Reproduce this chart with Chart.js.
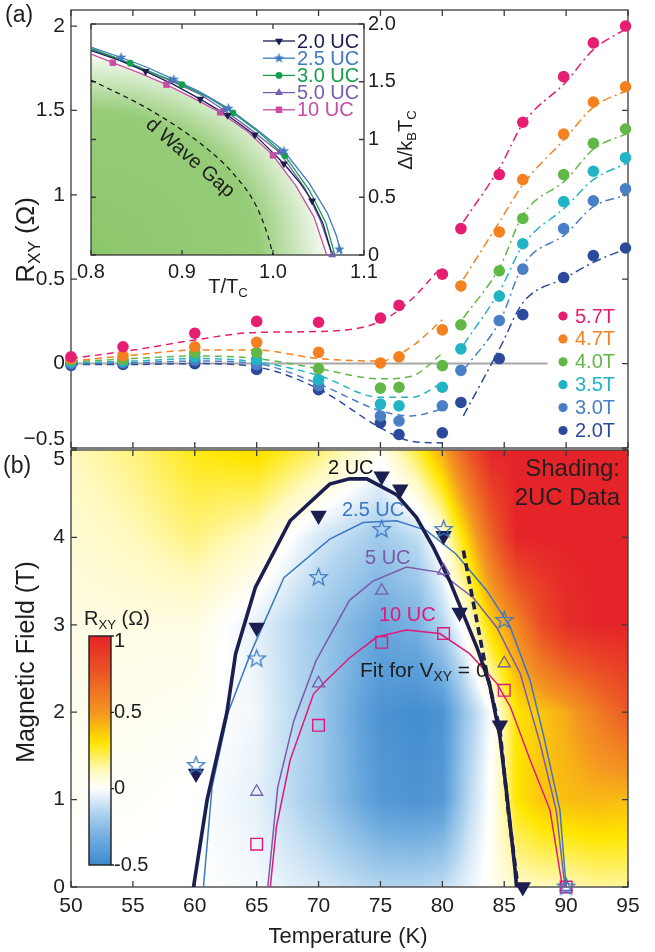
<!DOCTYPE html>
<html>
<head>
<meta charset="utf-8">
<script src="https://cdn.jsdelivr.net/npm/chart.js@4.4.1/dist/chart.umd.min.js"></script>
<style>
html, body { margin: 0; padding: 0; background: #fff; }
#page { position: relative; width: 655px; height: 952px; overflow: hidden; }
.box { position: absolute; left: 0; }
</style>
</head>
<body>
<div id="page">
  <div class="box" style="top:0"><canvas id="chartA" width="655" height="460"></canvas></div>
  <div class="box" style="top:440px"><canvas id="chartB" width="655" height="512"></canvas></div>
  <div class="box" style="top:0"><canvas id="inset" width="440" height="300"></canvas></div>
</div>
<script>
// ---------- panel (a): R_XY vs T for several fields (2 UC) ----------
const temps = [50, 54.2, 60, 65, 70, 75, 76.5, 80, 81.5, 84.6, 86.5, 89.8, 92.2, 94.8];
const r57 = [0.04, 0.10, 0.18, 0.25, 0.245, 0.27, 0.345, 0.53, 0.80, 1.12, 1.43, 1.70, 1.90, 2.00];
const r47 = [0.03, 0.047, 0.10, 0.126, 0.067, 0.004, 0.04, 0.20, 0.46, 0.78, 1.09, 1.36, 1.55, 1.64];
const r40 = [0.02, 0.024, 0.065, 0.065, -0.03, -0.145, -0.14, -0.012, 0.23, 0.55, 0.86, 1.12, 1.305, 1.39];
const r35 = [0.01, 0.015, 0.04, 0.024, -0.095, -0.24, -0.25, -0.14, 0.087, 0.40, 0.71, 0.96, 1.14, 1.22];
const r30 = [0.0, 0.005, 0.02, -0.006, -0.13, -0.31, -0.34, -0.25, -0.04, 0.255, 0.56, 0.80, 0.965, 1.035];
const r20 = [-0.01, -0.005, 0.0, -0.035, -0.155, -0.35, -0.42, -0.41, -0.23, 0.03, 0.29, 0.51, 0.64, 0.685];

// fit curves (dashed below ~80 K, dash-dot above)
const fitLowT = [50, 55, 60, 65, 70, 75, 77.5, 80];
const fitHighT = [81.7, 84.7, 86.5, 90, 92.2, 95];
const fit57Low = [0.03, 0.08, 0.14, 0.185, 0.19, 0.25, 0.38, 0.58];
const fit57High = [0.84, 1.17, 1.42, 1.67, 1.86, 1.99];
const fit47Low = [0.015, 0.05, 0.08, 0.08, 0.03, 0.015, 0.10, 0.26];
const fit47High = [0.50, 0.85, 1.06, 1.34, 1.52, 1.62];
const fit40Low = [0.01, 0.03, 0.045, 0.03, -0.03, -0.09, -0.075, 0.06];
const fit40High = [0.27, 0.58, 0.88, 1.09, 1.27, 1.365];
const fit35Low = [0.005, 0.015, 0.03, 0.01, -0.07, -0.2, -0.2, -0.115];
const fit35High = [0.11, 0.44, 0.70, 0.93, 1.09, 1.19];
const fit30Low = [0.0, 0.005, 0.015, 0.0, -0.12, -0.28, -0.31, -0.27];
const fit30High = [-0.04, 0.26, 0.58, 0.77, 0.93, 1.0];
const fit20Low = [-0.005, -0.005, 0.0, -0.02, -0.15, -0.38, -0.46, -0.47];
const fit20High = [-0.31, 0.10, 0.36, 0.51, 0.60, 0.685];

const zeroT = [50, 88.5];
const zeroR = [0, 0];

const fieldNames = ['5.7T', '4.7T', '4.0T', '3.5T', '3.0T', '2.0T'];
const xTicks = [50, 55, 60, 65, 70, 75, 80, 85, 90, 95];
const aYTicks = [-0.5, 0, 0.5, 1, 1.5, 2];

// ---------- inset: gap vs T/Tc ----------
const insetT20 = [0.80, 0.83, 0.86, 0.89, 0.92, 0.95, 0.98, 1.012, 1.03, 1.043, 1.055, 1.065];
const insetD20 = [1.77, 1.69, 1.59, 1.48, 1.35, 1.21, 1.04, 0.79, 0.62, 0.47, 0.27, 0];
const insetT25 = [0.80, 0.833, 0.86, 0.891, 0.92, 0.951, 0.98, 1.012, 1.04, 1.06, 1.07, 1.075];
const insetD25 = [1.80, 1.71, 1.63, 1.52, 1.41, 1.27, 1.10, 0.90, 0.62, 0.36, 0.16, 0];
const insetT30 = [0.80, 0.843, 0.87, 0.90, 0.93, 0.956, 0.985, 1.013, 1.04, 1.058, 1.068];
const insetD30 = [1.79, 1.66, 1.57, 1.475, 1.36, 1.23, 1.06, 0.86, 0.56, 0.28, 0];
const insetT50 = [0.80, 0.83, 0.8876, 0.92, 0.946, 0.975, 1.007, 1.035, 1.052, 1.065];
const insetD50 = [1.78, 1.70, 1.51, 1.39, 1.255, 1.09, 0.89, 0.58, 0.30, 0];
const insetT10 = [0.80, 0.824, 0.855, 0.883, 0.912, 0.942, 0.972, 1.0, 1.025, 1.045, 1.059];
const insetD10 = [1.74, 1.665, 1.57, 1.475, 1.36, 1.235, 1.07, 0.863, 0.60, 0.33, 0];
const mk20T = [0.86, 0.92, 0.95, 0.98, 1.012, 1.043];
const mk20D = [1.59, 1.35, 1.21, 1.04, 0.79, 0.47];
const mk25T = [0.833, 0.891, 0.951, 1.012, 1.073];
const mk25D = [1.71, 1.52, 1.27, 0.90, 0.05];
const mk30T = [0.843, 0.90, 0.956, 1.013];
const mk30D = [1.66, 1.475, 1.23, 0.86];
const mk50T = [0.8876, 0.946, 1.007, 1.065];
const mk50D = [1.51, 1.255, 0.889, 0];
const mk10T = [0.824, 0.883, 0.942, 1.0];
const mk10D = [1.665, 1.475, 1.235, 0.863];
const dWaveT = [0.8, 0.865, 0.92, 0.956, 0.982, 0.995, 1.0];
const dWaveD = [1.515, 1.255, 0.967, 0.707, 0.418, 0.15, 0];
const insetNames = ['2.0 UC', '2.5 UC', '3.0 UC', '5.0 UC', '10 UC'];
const insetXTicks = [0.8, 0.9, 1, 1.1];
const insetYTicks = [0, 0.5, 1, 1.5, 2];

// ---------- panel (b): phase boundaries in T-B ----------
const uc2LineT = [59.9, 61.0, 62.6, 63.3, 64.9, 67.7, 70.9, 72.5, 73.9, 76.3, 77.9, 79.3, 80.6, 81.7, 82.8, 83.8, 84.65, 85.2, 85.85, 86.0];
const uc2LineB = [0, 1.0, 2.0, 2.67, 3.43, 4.19, 4.61, 4.67, 4.67, 4.49, 4.23, 3.88, 3.5, 3.12, 2.74, 2.33, 1.72, 1.07, 0.23, 0];
const fitVxyT = [81.7, 83.6, 84.65, 85.3, 86.1];
const fitVxyB = [3.85, 2.44, 1.8, 0.9, 0];
const uc25LineT = [60.7, 61.4, 62.7, 64.5, 67.2, 70.9, 73.6, 76.3, 78.7, 81.1, 83.6, 85.5, 87.1, 88.2, 89.5, 90];
const uc25LineB = [0, 1.15, 2.0, 2.67, 3.54, 3.98, 4.17, 4.19, 4.08, 3.81, 3.39, 2.97, 2.36, 1.72, 0.88, 0];
const uc5LineT = [65.9, 66.7, 68.0, 69.8, 72.5, 74.4, 77.1, 79.8, 82.5, 84.4, 86.3, 87.9, 89.2, 89.9];
const uc5LineB = [0, 1.14, 1.9, 2.59, 3.28, 3.5, 3.66, 3.6, 3.31, 2.97, 2.44, 1.64, 0.88, 0];
const uc10LineT = [66.1, 66.6, 67.7, 69.6, 70.6, 72.5, 74.7, 77.1, 79.8, 82.2, 84.4, 85.5, 87.1, 88.7, 89.7];
const uc10LineB = [0, 0.69, 1.45, 2.21, 2.36, 2.62, 2.86, 2.94, 2.9, 2.67, 2.33, 2.06, 1.45, 0.88, 0];
const uc2T = [60.1, 65, 70, 75.1, 76.6, 80.1, 81.4, 84.65, 86.5];
const uc2B = [1.30, 2.97, 4.25, 4.70, 4.55, 4.02, 3.14, 1.85, 0];
const uc25T = [60.1, 65, 70, 75.1, 80.1, 85, 90];
const uc25B = [1.39, 2.61, 3.54, 4.09, 4.09, 3.05, 0];
const uc5T = [65, 70, 75.1, 80.1, 85, 90];
const uc5B = [1.09, 2.33, 3.39, 3.62, 2.56, 0];
const uc10T = [65, 70, 75.1, 80.1, 85, 90];
const uc10B = [0.49, 1.85, 2.8, 2.9, 2.25, 0];
const bYTicks = [0, 1, 2, 3, 4, 5];

// shading: R_XY of 2 UC sample on a coarse T x B grid
const shadeT = [50, 55, 60, 65, 70, 75, 78, 80, 82, 84, 86, 88, 90, 92.5, 95];
const shadeB = [0, 1, 2, 3, 4, 5];
const shadeR0 = [0, 0, 0, -0.02, -0.08, -0.15, -0.15, -0.12, -0.05, 0.03, 0.1, 0.12, 0.12, 0.15, 0.15];
const shadeR1 = [0.01, 0.01, 0, -0.05, -0.2, -0.42, -0.45, -0.42, -0.15, 0.02, 0.3, 0.38, 0.4, 0.42, 0.4];
const shadeR2 = [0.03, 0.03, 0.02, -0.03, -0.2, -0.45, -0.48, -0.45, -0.2, 0.0, 0.3, 0.38, 0.45, 0.6, 0.75];
const shadeR3 = [0.05, 0.05, 0.05, -0.05, -0.2, -0.35, -0.3, -0.15, 0.05, 0.35, 0.55, 0.8, 0.95, 1, 1];
const shadeR4 = [0.08, 0.12, 0.18, 0.1, -0.08, -0.2, -0.12, 0.05, 0.35, 0.7, 1, 1, 1, 1, 1];
const shadeR5 = [0.12, 0.18, 0.28, 0.33, 0.2, 0.03, 0.25, 0.45, 0.75, 1, 1, 1, 1, 1, 1];
const shadeRows = [shadeR0, shadeR1, shadeR2, shadeR3, shadeR4, shadeR5];
const cbTicks = [-0.5, 0, 0.5, 1];

// ---------- styles ----------
const F = '"Liberation Sans", Arial, Helvetica, sans-serif';
Chart.defaults.font.family = F;
Chart.defaults.color = '#1e1e1e';
const fieldColors = ['#e61e72', '#f4801f', '#62b847', '#20b4c4', '#4a7ec5', '#2c4a9b'];
const insetColors = ['#1b1d4d', '#3f7ac2', '#14a04b', '#7460ae', '#c94ca6'];
const navy = '#1b1e4f', blue = '#3b78c2', purple = '#7a5bab', magenta = '#e0197a';
const TICK = 21;

function pts(xs, ys) { return xs.map((v, i) => ({ x: v, y: ys[i] })); }

function rich(ctx, parts, x, y, size, align, color) {
  const sub = size * 0.66;
  let w = 0;
  parts.forEach(p => { ctx.font = (p[1] ? sub : size) + 'px ' + F; w += ctx.measureText(p[0]).width; });
  let cx = align === 'center' ? x - w / 2 : align === 'right' ? x - w : x;
  ctx.fillStyle = color || '#1e1e1e';
  ctx.textBaseline = 'middle';
  ctx.textAlign = 'left';
  parts.forEach(p => {
    ctx.font = (p[1] ? sub : size) + 'px ' + F;
    ctx.fillText(p[0], cx, p[1] ? y + size * 0.3 : y);
    cx += ctx.measureText(p[0]).width;
  });
}

function starImage(r, fill, stroke, lw) {
  const s = Math.ceil(2 * r + 2 * lw + 2);
  const c = document.createElement('canvas');
  c.width = c.height = s;
  const g = c.getContext('2d');
  g.beginPath();
  for (let k = 0; k < 10; k++) {
    const rr = k % 2 === 0 ? r : r * 0.42;
    const ang = -Math.PI / 2 + k * Math.PI / 5;
    g.lineTo(s / 2 + rr * Math.cos(ang), s / 2 + rr * Math.sin(ang));
  }
  g.closePath();
  if (fill) { g.fillStyle = fill; g.fill(); }
  if (stroke) { g.strokeStyle = stroke; g.lineWidth = lw; g.stroke(); }
  return c;
}

function makeFrame(xt, yt, len) {
  return {
    id: 'frame',
    beforeDatasetsDraw(chart) {
      const { ctx, chartArea: a, scales: { x, y } } = chart;
      ctx.save();
      ctx.strokeStyle = '#3a3a3a';
      ctx.lineWidth = 1.3;
      ctx.beginPath();
      xt.forEach(v => {
        const p = x.getPixelForValue(v);
        ctx.moveTo(p, a.bottom); ctx.lineTo(p, a.bottom - len);
        ctx.moveTo(p, a.top); ctx.lineTo(p, a.top + len);
      });
      yt.forEach(v => {
        const p = y.getPixelForValue(v);
        ctx.moveTo(a.left, p); ctx.lineTo(a.left + len, p);
        ctx.moveTo(a.right, p); ctx.lineTo(a.right - len, p);
      });
      ctx.stroke();
      ctx.strokeRect(a.left, a.top, a.right - a.left, a.bottom - a.top);
      ctx.restore();
    }
  };
}

function fixTicks(vals) {
  return s => { s.ticks = vals.map(v => ({ value: v })); };
}
function fixWidth(w) {
  return s => { s.width = w; s.paddingTop = 0; s.paddingBottom = 0; s.paddingLeft = 0; s.paddingRight = 0; };
}
function fixHeight(h) {
  return s => { s.height = h; s.paddingTop = 0; s.paddingBottom = 0; s.paddingLeft = 0; s.paddingRight = 0; };
}

// colormap used for the shading and its colour bar
const cmapStops = [
  [-0.5, [62, 138, 204]], [-0.35, [104, 167, 221]], [-0.15, [178, 213, 239]], [0, [255, 255, 255]],
  [0.12, [255, 249, 190]], [0.3, [255, 230, 0]], [0.5, [244, 150, 34]], [0.75, [236, 88, 37]], [1, [229, 36, 41]]
];
function cmap(v) {
  if (v <= cmapStops[0][0]) return cmapStops[0][1];
  for (let i = 1; i < cmapStops.length; i++) {
    if (v <= cmapStops[i][0]) {
      const [v0, c0] = cmapStops[i - 1], [v1, c1] = cmapStops[i];
      const f = (v - v0) / (v1 - v0);
      return [0, 1, 2].map(k => c0[k] + (c1[k] - c0[k]) * f);
    }
  }
  return cmapStops[cmapStops.length - 1][1];
}
function locate(arr, v) {
  if (v <= arr[0]) return [0, 0];
  for (let i = 1; i < arr.length; i++) if (v <= arr[i]) return [i - 1, (v - arr[i - 1]) / (arr[i] - arr[i - 1])];
  return [arr.length - 2, 1];
}
function shadeAt(t, b) {
  const [i, fx] = locate(shadeT, t), [j, fy] = locate(shadeB, b);
  const r0 = shadeRows[j], r1 = shadeRows[j + 1];
  const a = r0[i] + (r0[i + 1] - r0[i]) * fx;
  const c = r1[i] + (r1[i + 1] - r1[i]) * fx;
  return a + (c - a) * fy;
}

// ---------------- chart A ----------------
const fitLows = [fit57Low, fit47Low, fit40Low, fit35Low, fit30Low, fit20Low];
const fitHighs = [fit57High, fit47High, fit40High, fit35High, fit30High, fit20High];
const dotsA = [r57, r47, r40, r35, r30, r20];
const dsA = [];
dotsA.forEach((d, i) => dsA.push({
  data: pts(temps, d), backgroundColor: fieldColors[i], borderWidth: 0, pointRadius: 5.8, order: 0, clip: false
}));
fitLows.forEach((d, i) => dsA.push({
  data: pts(fitLowT, d), showLine: true, borderColor: fieldColors[i], borderWidth: 1.5, borderDash: [7, 5],
  pointRadius: 0, cubicInterpolationMode: 'monotone', order: 1
}));
fitHighs.forEach((d, i) => dsA.push({
  data: pts(fitHighT, d), showLine: true, borderColor: fieldColors[i], borderWidth: 1.5, borderDash: [9, 4, 2, 4],
  pointRadius: 0, cubicInterpolationMode: 'monotone', order: 1
}));
dsA.push({ data: pts(zeroT, zeroR), showLine: true, borderColor: '#a8a8a8', borderWidth: 2, pointRadius: 0, order: 2 });

const textA = {
  id: 'textA',
  afterDraw(chart) {
    const ctx = chart.ctx;
    ctx.save();
    rich(ctx, [['(a)', 0]], 5, 16, 23, 'left');
    // bottom tick label sits a bit above the shared border
    rich(ctx, [['\u22120.5', 0]], 65, 439, TICK, 'right');
    ctx.translate(27, 240);
    ctx.rotate(-Math.PI / 2);
    rich(ctx, [['R', 0], ['XY', 1], [' (\u03A9)', 0]], 0, 0, 26, 'center');
    ctx.restore();
    // field legend
    ctx.save();
    fieldNames.forEach((n, i) => {
      const yy = 316 + i * 22.9;
      ctx.fillStyle = fieldColors[i];
      ctx.beginPath(); ctx.arc(563, yy, 4.6, 0, Math.PI * 2); ctx.fill();
      ctx.font = '20px ' + F; ctx.textBaseline = 'middle'; ctx.textAlign = 'left';
      ctx.fillText(n, 575, yy + 1);
    });
    ctx.restore();
  }
};

new Chart(document.getElementById('chartA'), {
  type: 'scatter',
  data: { datasets: dsA },
  options: {
    responsive: false, animation: false, events: [], devicePixelRatio: 1,
    layout: { padding: { left: 0, right: 27, top: 10, bottom: 12 } },
    plugins: { legend: { display: false }, tooltip: { enabled: false } },
    scales: {
      x: { type: 'linear', min: 50, max: 95, display: false, afterBuildTicks: fixTicks(xTicks) },
      y: {
        type: 'linear', min: -0.5, max: 2.095,
        afterBuildTicks: fixTicks(aYTicks), afterFit: fixWidth(71),
        grid: { display: false, drawTicks: false }, border: { display: false },
        ticks: { padding: 6, font: { size: TICK }, color: '#1e1e1e',
          callback: v => v === -0.5 ? '' : String(v) }
      }
    }
  },
  plugins: [makeFrame(xTicks, aYTicks, 6), textA]
});

// ---------------- inset ----------------
const star25 = starImage(5.5, insetColors[1], null, 0);
const insetLines = [[insetT20, insetD20], [insetT25, insetD25], [insetT30, insetD30], [insetT50, insetD50], [insetT10, insetD10]];
const insetMarks = [[mk20T, mk20D], [mk25T, mk25D], [mk30T, mk30D], [mk50T, mk50D], [mk10T, mk10D]];
const insetStyles = [
  { pointStyle: 'triangle', rotation: 180, radius: 4.6 },
  { pointStyle: star25, rotation: 0, radius: 5.5 },
  { pointStyle: 'circle', rotation: 0, radius: 3.4 },
  { pointStyle: 'triangle', rotation: 0, radius: 4.6 },
  { pointStyle: 'rect', rotation: 0, radius: 4.6 }
];
const dsI = [];
insetLines.forEach((l, i) => dsI.push({
  data: pts(l[0], l[1]), showLine: true, borderColor: insetColors[i], borderWidth: 1.3, pointRadius: 0, order: 1
}));
insetMarks.forEach((m, i) => dsI.push({
  data: pts(m[0], m[1]), backgroundColor: insetColors[i], borderColor: insetColors[i], borderWidth: 0,
  pointStyle: insetStyles[i].pointStyle, rotation: insetStyles[i].rotation, pointRadius: insetStyles[i].radius, order: 0, clip: false
}));
dsI.push({ data: pts(dWaveT, dWaveD), showLine: true, borderColor: '#111', borderWidth: 1.2, borderDash: [5, 4],
  pointRadius: 0, order: 2, cubicInterpolationMode: 'monotone' });

const insetFill = {
  id: 'insetFill',
  beforeDatasetsDraw(chart) {
    const { ctx, chartArea: a } = chart;
    ctx.save();
    ctx.fillStyle = '#fff';
    ctx.fillRect(a.left, a.top, a.right - a.left, a.bottom - a.top);
    const meta = chart.getDatasetMeta(4);
    const pp = meta.data;
    ctx.beginPath();
    ctx.moveTo(a.left, a.bottom);
    pp.forEach(p => ctx.lineTo(p.x, p.y));
    ctx.lineTo(a.left, a.bottom);
    ctx.closePath();
    ctx.clip();
    const rx = pp[pp.length - 1].x - a.left, ry = a.bottom - pp[0].y;
    ctx.translate(a.left, a.bottom);
    ctx.scale(rx, ry);
    const g = ctx.createRadialGradient(0, 0, 0, 0, 0, 1.02);
    g.addColorStop(0, 'rgb(140,198,108)');
    g.addColorStop(0.7, 'rgb(150,204,120)');
    g.addColorStop(1, 'rgb(255,255,255)');
    ctx.fillStyle = g;
    ctx.fillRect(0, -1.3, 1.3, 1.3);
    ctx.restore();
  }
};
const textI = {
  id: 'textI',
  afterDraw(chart) {
    const ctx = chart.ctx;
    ctx.save();
    rich(ctx, [['T/T', 0], ['C', 1]], 228, 287, 20, 'center');
    ctx.restore();
    ctx.save();
    ctx.translate(406, 140); ctx.rotate(-Math.PI / 2);
    rich(ctx, [['\u0394/k', 0], ['B', 1], ['T', 0], ['C', 1]], 0, 0, 20, 'center');
    ctx.restore();
    ctx.save();
    ctx.translate(190, 158); ctx.rotate(41 * Math.PI / 180);
    rich(ctx, [['d Wave Gap', 0]], 0, 0, 20, 'center', '#1e1e1e');
    ctx.restore();
    // legend
    ctx.save();
    insetNames.forEach((n, i) => {
      const yy = 41 + i * 17.2;
      ctx.strokeStyle = insetColors[i]; ctx.lineWidth = 1.3;
      ctx.beginPath(); ctx.moveTo(263, yy); ctx.lineTo(295, yy); ctx.stroke();
      ctx.fillStyle = insetColors[i];
      const st = insetStyles[i];
      Chart.helpers.drawPoint(ctx, { pointStyle: st.pointStyle, rotation: st.rotation, radius: st.radius, borderWidth: 0 }, 279, yy);
      ctx.font = '20px ' + F; ctx.textBaseline = 'middle'; ctx.textAlign = 'left';
      ctx.fillStyle = insetColors[i];
      ctx.fillText(n, 297, yy + 1);
    });
    ctx.restore();
  }
};

new Chart(document.getElementById('inset'), {
  type: 'scatter',
  data: { datasets: dsI },
  options: {
    responsive: false, animation: false, events: [], devicePixelRatio: 1,
    layout: { padding: { left: 91, right: 0, top: 24, bottom: 0 } },
    plugins: { legend: { display: false }, tooltip: { enabled: false } },
    scales: {
      x: {
        type: 'linear', min: 0.8, max: 1.1, afterBuildTicks: fixTicks(insetXTicks), afterFit: fixHeight(45),
        grid: { display: false, drawTicks: false }, border: { display: false },
        ticks: { padding: 5, font: { size: 20 }, color: '#1e1e1e', maxRotation: 0 }
      },
      y: {
        type: 'linear', position: 'right', min: 0, max: 2, afterBuildTicks: fixTicks(insetYTicks), afterFit: fixWidth(76),
        grid: { display: false, drawTicks: false }, border: { display: false },
        ticks: { padding: 4, font: { size: 20 }, color: '#1e1e1e', callback: v => v === 2 ? '2.0' : String(v) }
      }
    }
  },
  plugins: [insetFill, makeFrame(insetXTicks, insetYTicks, 5), textI]
});

// ---------------- chart B ----------------
const heat = {
  id: 'heat',
  beforeDatasetsDraw(chart) {
    const { ctx, chartArea: a, scales: { x, y } } = chart;
    const w = Math.round(a.right - a.left), h = Math.round(a.bottom - a.top);
    const off = document.createElement('canvas');
    off.width = w; off.height = h;
    const octx = off.getContext('2d');
    const img = octx.createImageData(w, h);
    for (let j = 0; j < h; j++) {
      const b = y.getValueForPixel(a.top + j + 0.5);
      for (let i = 0; i < w; i++) {
        const t = x.getValueForPixel(a.left + i + 0.5);
        const c = cmap(shadeAt(t, b));
        const k = (j * w + i) * 4;
        img.data[k] = c[0]; img.data[k + 1] = c[1]; img.data[k + 2] = c[2]; img.data[k + 3] = 255;
      }
    }
    octx.putImageData(img, 0, 0);
    ctx.drawImage(off, a.left, a.top);
  }
};

const colorBar = {
  id: 'colorBar',
  afterDatasetsDraw(chart) {
    const ctx = chart.ctx;
    const x0 = 89, x1 = 111, yTop = 196, yBot = 425;
    const vy = v => yBot - (v + 0.5) / 1.5 * (yBot - yTop);
    ctx.save();
    const g = ctx.createLinearGradient(0, yBot, 0, yTop);
    for (let s = 0; s <= 1.0001; s += 0.02) {
      const c = cmap(-0.5 + 1.5 * s);
      g.addColorStop(Math.min(s, 1), `rgb(${c[0] | 0},${c[1] | 0},${c[2] | 0})`);
    }
    ctx.fillStyle = g;
    ctx.fillRect(x0, yTop, x1 - x0, yBot - yTop);
    ctx.strokeStyle = '#1e1e1e'; ctx.lineWidth = 1.4;
    ctx.strokeRect(x0, yTop, x1 - x0, yBot - yTop);
    ctx.beginPath();
    cbTicks.forEach(v => { ctx.moveTo(x1, vy(v)); ctx.lineTo(x1 + 3, vy(v)); });
    ctx.stroke();
    ctx.font = '20px ' + F; ctx.fillStyle = '#1e1e1e'; ctx.textBaseline = 'middle'; ctx.textAlign = 'left';
    cbTicks.forEach(v => ctx.fillText(String(v), 114, v === 1 ? vy(v) + 5 : vy(v)));
    rich(ctx, [['R', 0], ['XY', 1], [' (\u03A9)', 0]], 84, 179, 20, 'left');
    ctx.restore();
  }
};

const textB = {
  id: 'textB',
  afterDraw(chart) {
    const ctx = chart.ctx;
    ctx.save();
    rich(ctx, [['(b)', 0]], 3, 27, 23, 'left');
    rich(ctx, [['5', 0]], 65, 19, TICK, 'right');
    rich(ctx, [['Temperature (K)', 0]], 348, 497, 22, 'center');
    rich(ctx, [['2 UC', 0]], 328, 28, 20, 'left', '#111');
    rich(ctx, [['2.5 UC', 0]], 342, 70, 20, 'left', blue);
    rich(ctx, [['5 UC', 0]], 365, 118, 20, 'left', purple);
    rich(ctx, [['10 UC', 0]], 379, 175, 20, 'left', magenta);
    rich(ctx, [['Fit for V', 0], ['XY', 1], [' = 0', 0]], 360, 231, 21, 'left', '#1e1e1e');
    rich(ctx, [['Shading:', 0]], 620, 29, 24, 'right', '#231f20');
    rich(ctx, [['2UC Data', 0]], 620, 58, 24, 'right', '#231f20');
    ctx.translate(27, 222); ctx.rotate(-Math.PI / 2);
    rich(ctx, [['Magnetic Field (T)', 0]], 0, 0, 25, 'center');
    ctx.restore();
  }
};

const star2b = starImage(9, null, blue, 1.3);
new Chart(document.getElementById('chartB'), {
  type: 'scatter',
  data: {
    datasets: [
      { data: pts(uc10LineT, uc10LineB), showLine: true, borderColor: magenta, borderWidth: 1.5, pointRadius: 0, order: 3 },
      { data: pts(uc5LineT, uc5LineB), showLine: true, borderColor: purple, borderWidth: 1.5, pointRadius: 0, order: 3 },
      { data: pts(uc25LineT, uc25LineB), showLine: true, borderColor: blue, borderWidth: 1.5, pointRadius: 0, order: 3 },
      { data: pts(uc2LineT, uc2LineB), showLine: true, borderColor: navy, borderWidth: 3.6, pointRadius: 0, order: 2 },
      { data: pts(fitVxyT, fitVxyB), showLine: true, borderColor: navy, borderWidth: 3.6, borderDash: [8, 5], pointRadius: 0, order: 1 },
      { data: pts(uc10T, uc10B), pointStyle: 'rect', pointRadius: 8.2, backgroundColor: 'rgba(0,0,0,0)', borderColor: magenta, borderWidth: 1.4, order: 0, clip: false },
      { data: pts(uc5T, uc5B), pointStyle: 'triangle', pointRadius: 7, backgroundColor: 'rgba(0,0,0,0)', borderColor: purple, borderWidth: 1.3, order: 0, clip: false },
      { data: pts(uc2T, uc2B), pointStyle: 'triangle', rotation: 180, pointRadius: 9.5, backgroundColor: navy, borderColor: navy, borderWidth: 0, order: 0, clip: false },
      { data: pts(uc25T, uc25B), pointStyle: star2b, pointRadius: 9, order: -1, clip: false }
    ]
  },
  options: {
    responsive: false, animation: false, events: [], devicePixelRatio: 1,
    layout: { padding: { left: 0, right: 27, top: 8, bottom: 0 } },
    plugins: { legend: { display: false }, tooltip: { enabled: false } },
    scales: {
      x: {
        type: 'linear', min: 50, max: 95, afterBuildTicks: fixTicks(xTicks), afterFit: fixHeight(65),
        grid: { display: false, drawTicks: false }, border: { display: false },
        ticks: { padding: 7, font: { size: TICK }, color: '#1e1e1e', maxRotation: 0 }
      },
      y: {
        type: 'linear', min: 0, max: 5, afterBuildTicks: fixTicks(bYTicks), afterFit: fixWidth(71),
        grid: { display: false, drawTicks: false }, border: { display: false },
        ticks: { padding: 6, font: { size: TICK }, color: '#1e1e1e', callback: v => v === 5 ? '' : String(v) }
      }
    }
  },
  plugins: [heat, makeFrame(xTicks, bYTicks, 6), colorBar, textB]
});
</script>
</body>
</html>
